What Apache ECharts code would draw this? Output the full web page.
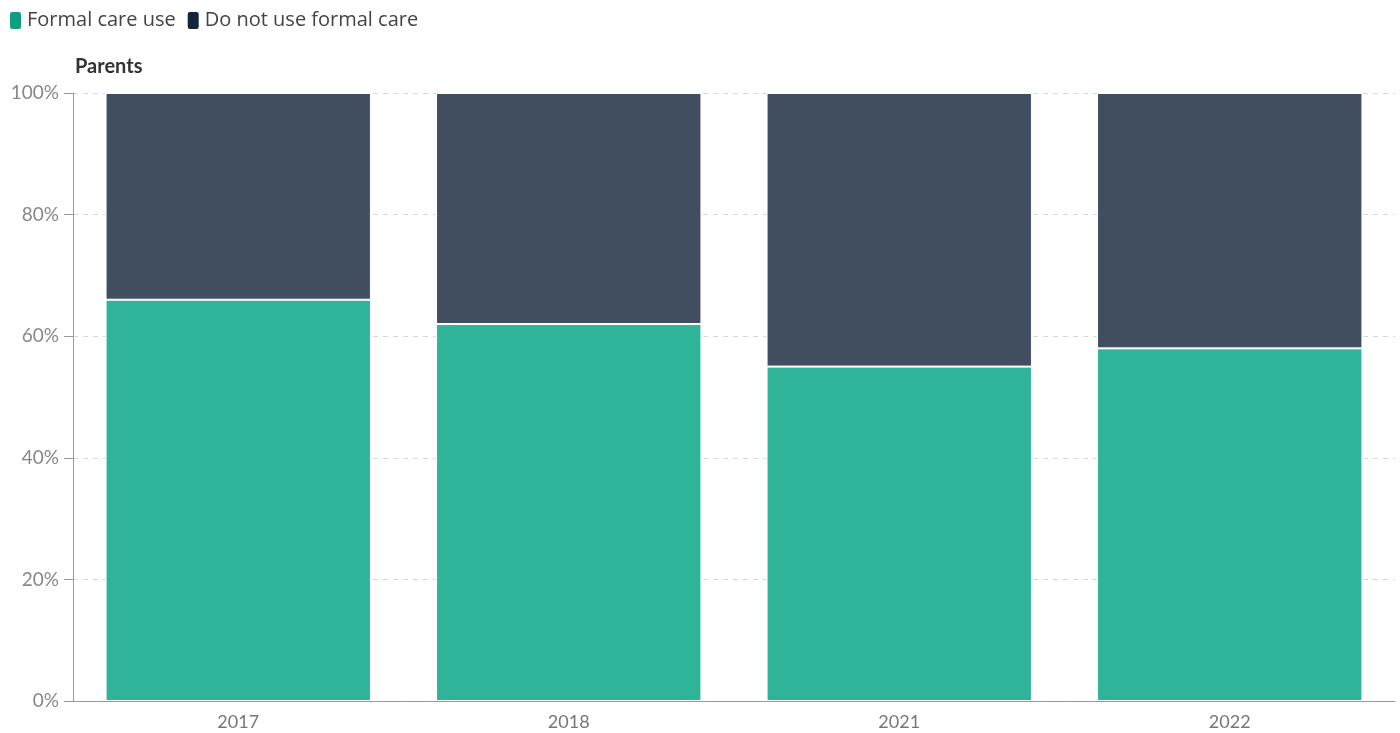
<!DOCTYPE html>
<html>
<head>
<meta charset="utf-8">
<script src="https://cdn.jsdelivr.net/npm/echarts@6/dist/echarts.min.js"></script>
<style>
  html, body { margin: 0; padding: 0; background: #fff; }
  #chart { width: 1400px; height: 733px; }
</style>
</head>
<body>
<div id="chart"></div>
<script>
var years = ['2017', '2018', '2021', '2022'];
var formalCare = [66, 62, 55, 58];
var noFormalCare = [34, 38, 45, 42];
var yTicks = ['0%', '20%', '40%', '60%', '80%', '100%'];

var myChart = echarts.init(document.getElementById('chart'));

var font = 'Lato, "Noto Sans", sans-serif';

var option = {
    textStyle: { fontFamily: font },
    title: {
        text: 'Parents',
        left: 70,
        top: 52,
        textStyle: { fontFamily: font, fontSize: 20, fontWeight: 'bold', color: '#333' },
    },
    legend: {
        left: 3,
        top: 5,
        itemWidth: 13,
        itemHeight: 19,
        itemGap: 10,
        icon: 'roundRect',
        textStyle: { fontFamily: '"Open Sans", sans-serif', fontSize: 20, color: '#444' },
        data: [
            { name: 'Formal care use', itemStyle: { color: '#0f9f7f' } },
            { name: 'Do not use formal care', itemStyle: { color: '#15263a' } },
        ],
    },
    grid: {
        left: 73,
        right: 5,
        top: 93,
        bottom: 32,
    },
    xAxis: {
        type: 'category',
        data: years,
        axisLine: { lineStyle: { color: '#999' } },
        axisTick: { alignWithLabel: true, lineStyle: { color: '#999' } },
        axisLabel: { fontFamily: font, fontSize: 18, color: '#777', margin: 12 },
    },
    yAxis: {
        type: 'value',
        min: 0,
        max: 100,
        interval: 20,
        axisLine: { show: true, lineStyle: { color: '#999' } },
        axisTick: { show: true, length: 9, lineStyle: { color: '#999' } },
        axisLabel: {
            fontFamily: font,
            fontSize: 19,
            color: '#888',
            margin: 14,
            formatter: function (v) { return yTicks[v / 20]; },
        },
        splitLine: { lineStyle: { type: [5, 5], color: '#d8d8d8' } },
    },
    series: [
        {
            name: 'Formal care use',
            type: 'bar',
            stack: 'total',
            barWidth: '80.3%',
            data: formalCare,
            itemStyle: { color: '#2fb49a', borderColor: '#fff', borderWidth: 1 },
        },
        {
            name: 'Do not use formal care',
            type: 'bar',
            stack: 'total',
            barWidth: '80.3%',
            data: noFormalCare,
            itemStyle: { color: '#404e60', borderColor: '#fff', borderWidth: 1 },
        },
    ],
};

myChart.setOption(option);
</script>
</body>
</html>
